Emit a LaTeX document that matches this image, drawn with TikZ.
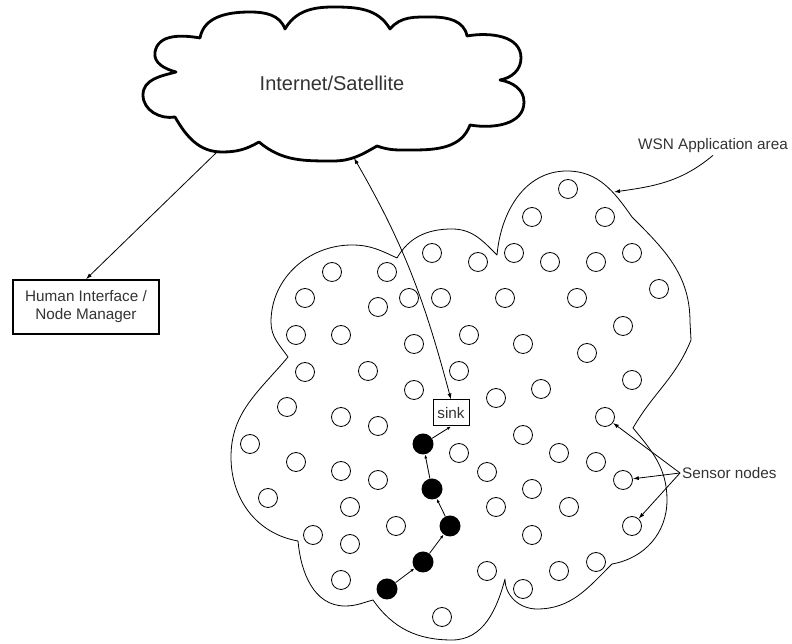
\documentclass[tikz,border=0pt]{standalone}
\usepackage{fontspec}
\setmainfont{Liberation Sans}
\usepackage{tikz}
\usetikzlibrary{math}
\usetikzlibrary{arrows.meta}

\newcommand\lblfont{\fontsize{15.3}{18}\selectfont}

\begin{document}
\begin{tikzpicture}[x=1pt, y=1pt,
		mote/.style={circle, draw, line width=0.8pt, minimum size=19pt, inner sep=0pt},
		hop/.style={circle, fill=black, minimum size=21pt, inner sep=0pt},
		lbl/.style={font=\lblfont, text=black!80, inner sep=2pt},
		link/.style={line width=0.8pt},
		>={Latex[length=6pt,width=4pt]}]
	% Constants
	\tikzmath{\W = 792; \H = 644;}
	\useasboundingbox (0,0) rectangle (\W,\H);

	% Internet cloud
	\draw[line width=2.8pt, line join=round] (176,572) to[out=165,in=-100] (155,592) to[out=80,in=170] (200,606)
		to[out=80,in=180] (250,632) to[out=0,in=110] (285,615)
		to[out=60,in=180] (333,637) to[out=0,in=120] (390,615)
		to[out=50,in=180] (432,627) to[out=0,in=100] (467,608)
		to[out=10,in=90] (521,586) to[out=-90,in=10] (500,564)
		to[out=-10,in=90] (524,542) to[out=-90,in=-10] (470,519)
		to[out=-110,in=0] (413,494) to[out=180,in=-20] (377,498)
		to[out=-150,in=0] (333,483) to[out=180,in=-40] (259,502)
		to[out=-150,in=0] (222,492) to[out=180,in=-60] (175,527)
		to[out=-170,in=-90] (143,549) to[out=90,in=195] (176,572) -- cycle;
	\node[lbl, font=\fontsize{20}{24}\selectfont] (net) at (332,561) {Internet/Satellite};
	\coordinate (netA) at (216,491);
	\coordinate (netB) at (354,486);

	% WSN application area
	\draw[link, line join=round] (397,386) to[out=60,in=180] (452,415) to[out=0,in=135] (497,389)
		to[out=85,in=180] (567,473) to[out=0,in=125] (632,427)
		to[out=-45,in=90] (690,322) -- (691,304)
		to[out=-112,in=60] (633,216)
		to[out=-50,in=90] (667,144) to[out=-90,in=10] (612,80)
		to[out=-135,in=0] (537,35) to[out=180,in=-90] (505,65)
		to[out=-105,in=0] (452,4) to[out=180,in=-55] (373,44)
		to[out=195,in=0] (345,38) to[out=180,in=-85] (298,103)
		to[out=170,in=-90] (231,187) to[out=90,in=230] (288,287)
		to[out=125,in=-90] (271,322) to[out=90,in=180] (352,399)
		to[out=0,in=155] (397,386) -- cycle;
	\coordinate (areaA) at (614,452);

	% Sensor nodes
	\foreach \x/\y [count=\i] in {568/455, 532/427, 605/427, 432/391, 478/382, 514/391, 550/382,
		596/382, 632/391, 332/372, 387/372, 305/346, 378/337, 409/346, 441/346, 505/346, 577/346,
		659/355, 296/309, 341/309, 414/300, 469/309, 523/300, 623/318, 587/291, 305/272, 368/273,
		459/273, 632/264, 414/254, 496/246, 541/255, 605/227, 287/237, 341/227, 378/218, 523/209,
		250/200, 459/191, 559/191, 596/182, 296/182, 341/173, 378/164, 487/172, 623/164, 268/146,
		350/137, 532/155, 496/137, 569/137, 396/118, 313/109, 350/100, 632/118, 532/109, 341/64,
		487/73, 559/73, 596/82, 523/55, 442/27}
		\node[mote] (s\i) at (\x,\y) {};

	% Sink and the route to it
	\node[lbl, draw=black, line width=1pt, minimum width=36pt, minimum height=26pt] (sink) at (451,231) {sink};
	\node[hop] (b1) at (423,200) {};
	\node[hop] (b2) at (432,155) {};
	\node[hop] (b3) at (450,118) {};
	\node[hop] (b4) at (423,82) {};
	\node[hop] (b5) at (387,55) {};
	\draw[link, -{Latex[length=4pt,width=3pt]}] (b5) -- (b4);
	\draw[link, -{Latex[length=4pt,width=3pt]}] (b4) -- (b3);
	\draw[link, -{Latex[length=4pt,width=3pt]}] (b3) -- (b2);
	\draw[link, -{Latex[length=4pt,width=3pt]}] (b2) -- (b1);
	\draw[link, -{Latex[length=4pt,width=3pt]}] (b1) -- (sink.south);

	% Human interface
	\node[lbl, draw=black, line width=1.6pt, minimum width=146pt, minimum height=54pt, align=center] (hmi) at (86,337)
		{Human Interface /\\Node Manager};
	\draw[link, ->] (netA) -- (hmi.north);
	\draw[link, <->] (sink.north) to[out=105,in=-60] (netB);

	% Labels
	\node[lbl, anchor=west] (wsn) at (636,498) {WSN Application area};
	\draw[link, ->] (wsn.south) to[out=220,in=8] (areaA);
	\node[lbl, anchor=west] (sens) at (680,171) {Sensor nodes};
	\draw[link, ->] (sens.west) -- (s33);
	\draw[link, ->] (sens.west) -- (s46);
	\draw[link, ->] (sens.west) -- (s55);
\end{tikzpicture}
\end{document}
